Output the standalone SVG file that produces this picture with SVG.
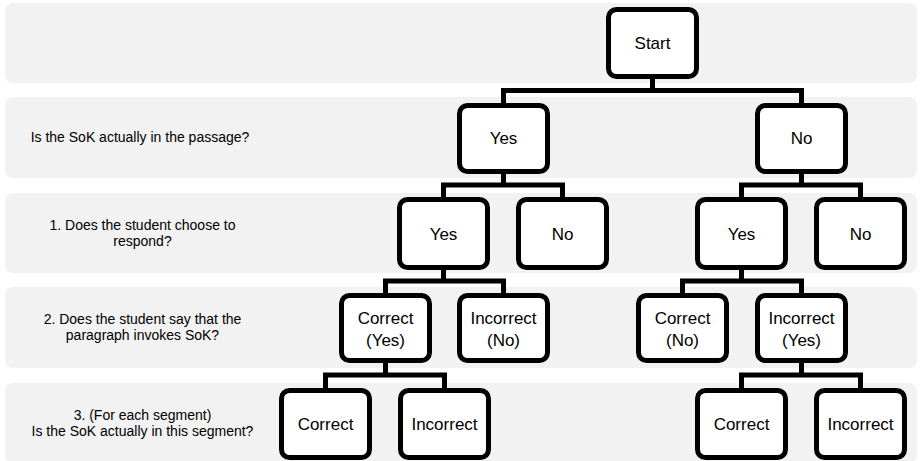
<svg xmlns="http://www.w3.org/2000/svg" width="920" height="461" viewBox="0 0 920 461">
  <style>
    .band { fill: #f2f2f2; }
    .node rect { fill: #ffffff; stroke: #000000; stroke-width: 5; }
    .node text { font-family: "Liberation Sans", Arial, sans-serif; font-size: 17px; fill: #000000; text-anchor: middle; }
    .label { font-family: "Liberation Sans", Arial, sans-serif; font-size: 14px; fill: #000000; text-anchor: middle; }
    .links path { fill: none; stroke: #000000; stroke-width: 5; stroke-linejoin: miter; stroke-linecap: butt; }
  </style>

  <!-- row bands -->
  <g id="bands">
    <rect class="band" x="5" y="3" width="912" height="80" rx="8"/>
    <rect class="band" x="5" y="97" width="912" height="81" rx="8"/>
    <rect class="band" x="5" y="193" width="912" height="80" rx="8"/>
    <rect class="band" x="5" y="287" width="912" height="81" rx="8"/>
    <rect class="band" x="5" y="383" width="912" height="80" rx="8"/>
  </g>

  <!-- row questions -->
  <g id="questions">
    <text class="label" x="140" y="142">Is the SoK actually in the passage?</text>
    <text class="label" x="142.5" y="230">1. Does the student choose to</text>
    <text class="label" x="142.5" y="246">respond?</text>
    <text class="label" x="142.5" y="324">2. Does the student say that the</text>
    <text class="label" x="142.5" y="340">paragraph invokes SoK?</text>
    <text class="label" x="142.5" y="420">3. (For each segment)</text>
    <text class="label" x="142.5" y="436">Is the SoK actually in this segment?</text>
  </g>

  <!-- connectors -->
  <g id="connectors" class="links">
    <path d="M652.5 78 V90.5 M503.5 104 V90.5 H801.5 V104"/>
    <path d="M503.5 173 V185 M443.5 198 V185 H562.5 V198"/>
    <path d="M801.5 173 V185 M741.5 198 V185 H860.5 V198"/>
    <path d="M443.5 269 V281 M385.5 294 V281 H503.5 V294"/>
    <path d="M741.5 269 V281 M682.5 294 V281 H801.5 V294"/>
    <path d="M385.5 362 V375 M325.5 389 V375 H444.5 V389"/>
    <path d="M801.5 362 V375 M741.5 389 V375 H860.5 V389"/>
  </g>

  <!-- level 0 -->
  <g id="start" class="node">
    <rect x="608.5" y="9.5" width="88" height="67" rx="8"/>
    <text x="652.5" y="49">Start</text>
  </g>

  <!-- level 1 -->
  <g id="passage-yes" class="node">
    <rect x="459.5" y="105.5" width="88" height="66" rx="8"/>
    <text x="503.5" y="144">Yes</text>
  </g>
  <g id="passage-no" class="node">
    <rect x="757.5" y="105.5" width="88" height="66" rx="8"/>
    <text x="801.5" y="144">No</text>
  </g>

  <!-- level 2 -->
  <g id="respond-yes-a" class="node">
    <rect x="399.5" y="199.5" width="88" height="68" rx="8"/>
    <text x="443.5" y="239.5">Yes</text>
  </g>
  <g id="respond-no-a" class="node">
    <rect x="518.5" y="199.5" width="88" height="68" rx="8"/>
    <text x="562.5" y="239.5">No</text>
  </g>
  <g id="respond-yes-b" class="node">
    <rect x="697.5" y="199.5" width="88" height="68" rx="8"/>
    <text x="741.5" y="239.5">Yes</text>
  </g>
  <g id="respond-no-b" class="node">
    <rect x="816.5" y="199.5" width="88" height="68" rx="8"/>
    <text x="860.5" y="239.5">No</text>
  </g>

  <!-- level 3 -->
  <g id="says-correct-yes" class="node">
    <rect x="341.5" y="295.5" width="88" height="65" rx="8"/>
    <text x="385.5" y="324">Correct</text>
    <text x="385.5" y="345.5">(Yes)</text>
  </g>
  <g id="says-incorrect-no" class="node">
    <rect x="459.5" y="295.5" width="88" height="65" rx="8"/>
    <text x="503.5" y="324">Incorrect</text>
    <text x="503.5" y="345.5">(No)</text>
  </g>
  <g id="says-correct-no" class="node">
    <rect x="638.5" y="295.5" width="88" height="65" rx="8"/>
    <text x="682.5" y="324">Correct</text>
    <text x="682.5" y="345.5">(No)</text>
  </g>
  <g id="says-incorrect-yes" class="node">
    <rect x="757.5" y="295.5" width="88" height="65" rx="8"/>
    <text x="801.5" y="324">Incorrect</text>
    <text x="801.5" y="345.5">(Yes)</text>
  </g>

  <!-- level 4 -->
  <g id="segment-correct-a" class="node">
    <rect x="281.5" y="390.5" width="88" height="67" rx="8"/>
    <text x="325.5" y="430">Correct</text>
  </g>
  <g id="segment-incorrect-a" class="node">
    <rect x="400.5" y="390.5" width="88" height="67" rx="8"/>
    <text x="444.5" y="430">Incorrect</text>
  </g>
  <g id="segment-correct-b" class="node">
    <rect x="697.5" y="390.5" width="88" height="67" rx="8"/>
    <text x="741.5" y="430">Correct</text>
  </g>
  <g id="segment-incorrect-b" class="node">
    <rect x="816.5" y="390.5" width="88" height="67" rx="8"/>
    <text x="860.5" y="430">Incorrect</text>
  </g>
</svg>
